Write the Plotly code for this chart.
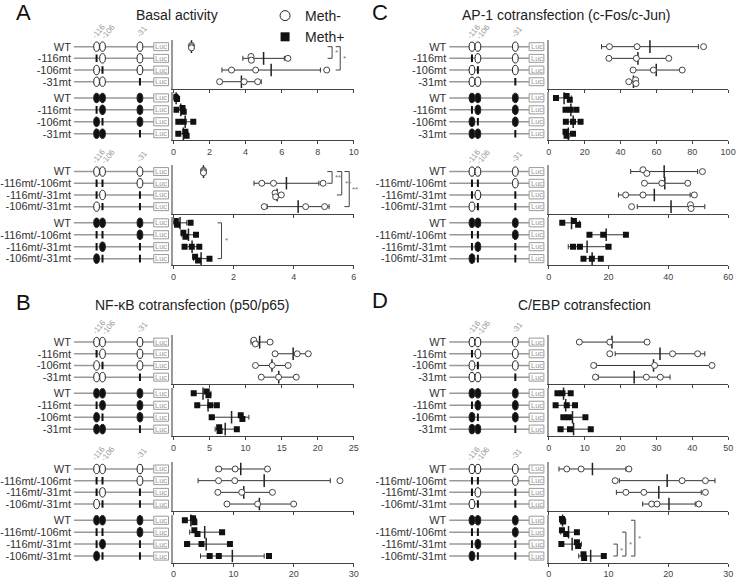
import plotly.graph_objects as go

W, H = 745, 579

# ---------------- data ----------------
SINGLE_ROWS = ["WT", "-116mt", "-106mt", "-31mt"]
DOUBLE_ROWS = ["WT", "-116mt/-106mt", "-116mt/-31mt", "-106mt/-31mt"]
SITE_LABELS = ["-116", "-106", "-31"]
SINGLE_MUT = [[0, 0, 0], [1, 0, 0], [0, 1, 0], [0, 0, 1]]
DOUBLE_MUT = [[0, 0, 0], [1, 1, 0], [1, 0, 1], [0, 1, 1]]

PANEL_LETTERS = ["A", "B", "C", "D"]
PANEL_TITLES = ["Basal activity", "NF-κB cotransfection (p50/p65)",
                "AP-1 cotransfection (c-Fos/c-Jun)", "C/EBP cotransfection"]
LEGEND_NAMES = ["Meth-", "Meth+"]

# Panel A, single mutants (x 0-10)
A1_NEG_PTS = [[1.0, 1.0, 1.0], [4.3, 4.32, 6.35], [3.22, 4.56, 8.5], [2.56, 3.92, 4.67]]
A1_NEG_MEAN = [1.0, 5.0, 5.42, 3.77]
A1_NEG_SD = [0.04, 1.15, 2.73, 1.1]
A1_POS_PTS = [[0.1, 0.15, 0.2], [0.15, 0.5, 0.57], [0.27, 0.57, 1.1], [0.27, 0.66, 0.73]]
A1_POS_MEAN = [0.15, 0.41, 0.65, 0.55]
A1_POS_SD = [0.05, 0.23, 0.42, 0.25]
A1_TICKS = [0, 2, 4, 6, 8, 10]

# Panel A, double mutants (x 0-6)
A2_NEG_PTS = [[1.0, 1.0, 1.0], [2.94, 3.33, 4.98], [3.38, 3.4, 3.59], [3.02, 4.4, 5.03]]
A2_NEG_MEAN = [1.0, 3.76, 3.45, 4.15]
A2_NEG_SD = [0.04, 1.08, 0.1, 1.03]
A2_POS_PTS = [[0.08, 0.12, 0.57], [0.33, 0.4, 0.75], [0.37, 0.61, 0.86], [0.72, 0.82, 1.2]]
A2_POS_MEAN = [0.22, 0.5, 0.62, 0.92]
A2_POS_SD = [0.22, 0.22, 0.25, 0.25]
A2_TICKS = [0, 2, 4, 6]

# Panel B, single mutants (x 0-25)
B1_NEG_PTS = [[11.14, 11.37, 13.4], [14.09, 17.16, 18.7], [11.37, 13.7, 15.9], [12.18, 14.58, 17.03]]
B1_NEG_MEAN = [11.95, 16.6, 13.66, 14.6]
B1_NEG_SD = [1.2, 2.3, 2.3, 2.4]
B1_POS_PTS = [[2.81, 4.62, 4.85], [3.3, 5.12, 6.02], [5.3, 9.33, 9.56], [6.34, 6.4, 8.79]]
B1_POS_MEAN = [4.1, 4.8, 8.06, 7.18]
B1_POS_SD = [1.1, 1.4, 2.4, 1.4]
B1_TICKS = [0, 5, 10, 15, 20, 25]

# Panel B, double mutants (x 0-30)
B2_NEG_PTS = [[7.55, 10.27, 15.65], [7.5, 10.2, 27.7], [7.39, 11.36, 16.47], [8.9, 14.0, 20.0]]
B2_NEG_MEAN = [11.2, 15.1, 11.7, 14.3]
B2_NEG_SD = [4.1, 11.0, 4.5, 5.6]
B2_POS_PTS = [[1.9, 3.26, 3.48], [3.48, 4.0, 8.1], [2.28, 4.67, 9.4], [6.03, 7.55, 15.9]]
B2_POS_MEAN = [2.9, 5.2, 5.45, 9.8]
B2_POS_SD = [0.9, 2.5, 3.6, 5.3]
B2_TICKS = [0, 10, 20, 30]

# Panel C, single mutants (x 0-100)
C1_NEG_PTS = [[33.8, 49.2, 86.3], [33.5, 48.8, 66.9], [47.0, 58.3, 74.4], [44.6, 48.4, 48.6]]
C1_NEG_MEAN = [56.4, 49.7, 59.9, 47.2]
C1_NEG_SD = [27.0, 16.7, 13.8, 2.2]
C1_POS_PTS = [[4.0, 9.9, 11.7], [9.3, 12.1, 15.4], [9.5, 13.5, 17.7], [9.3, 9.9, 13.5]]
C1_POS_MEAN = [8.5, 12.3, 13.6, 10.9]
C1_POS_SD = [4.0, 3.0, 4.1, 2.3]
C1_TICKS = [0, 20, 40, 60, 80, 100]

# Panel C, double mutants (x 0-60)
C2_NEG_PTS = [[31.5, 32.8, 51.4], [32.0, 37.8, 46.5], [25.7, 31.5, 48.7], [27.7, 47.4, 47.6]]
C2_NEG_MEAN = [38.6, 38.8, 35.3, 40.9]
C2_NEG_SD = [11.2, 7.3, 12.0, 11.3]
C2_POS_PTS = [[4.5, 8.4, 9.8], [13.6, 18.2, 25.8], [8.1, 10.4, 20.0], [11.6, 14.4, 17.4]]
C2_POS_MEAN = [7.6, 19.2, 12.8, 14.5]
C2_POS_SD = [2.7, 6.2, 6.3, 2.9]
C2_TICKS = [0, 20, 40, 60]

# Panel D, single mutants (x 0-50)
D1_NEG_PTS = [[8.5, 17.0, 27.4], [17.0, 34.5, 41.5], [12.5, 29.5, 45.5], [13.0, 27.2, 31.1]]
D1_NEG_MEAN = [17.6, 31.0, 29.2, 23.8]
D1_NEG_SD = [9.5, 12.5, 16.0, 10.0]
D1_POS_PTS = [[2.4, 3.8, 6.1], [1.9, 5.0, 7.3], [4.1, 5.6, 10.2], [3.3, 5.9, 11.7]]
D1_POS_MEAN = [4.1, 4.7, 6.6, 6.9]
D1_POS_SD = [1.9, 2.7, 3.2, 4.3]
D1_TICKS = [0, 10, 20, 30, 40, 50]

# Panel D, double mutants (x 0-30)
D2_NEG_PTS = [[3.0, 5.4, 13.4], [11.1, 22.3, 26.2], [12.9, 15.9, 26.2], [17.2, 18.1, 25.1]]
D2_NEG_MEAN = [7.3, 19.8, 18.4, 20.1]
D2_NEG_SD = [5.6, 8.0, 7.1, 4.4]
D2_POS_PTS = [[2.2, 2.3, 2.4], [2.2, 2.9, 4.7], [2.1, 4.7, 4.9], [5.8, 5.9, 9.2]]
D2_POS_MEAN = [2.3, 3.3, 3.9, 7.0]
D2_POS_SD = [0.1, 1.3, 1.55, 2.0]
D2_TICKS = [0, 10, 20, 30]

# significance brackets: (row_from, row_to, label)
A1_NEG_SIG = [(0, 1, "*"), (0, 2, "*")]
A2_NEG_SIG = [(0, 1, "**"), (0, 2, "**"), (0, 3, "**")]
A2_POS_SIG = [(0, 3, "*")]
D2_POS_SIG = [(2, 3, "*"), (1, 3, "*"), (0, 3, "*")]

# ---------------- layout of blocks (style) ----------------
blocks = [
    dict(left=173, right=356, top=40, rows=SINGLE_ROWS, muts=SINGLE_MUT, ticks=A1_TICKS,
         neg=(A1_NEG_PTS, A1_NEG_MEAN, A1_NEG_SD), pos=(A1_POS_PTS, A1_POS_MEAN, A1_POS_SD),
         neg_sig=(A1_NEG_SIG, [8.8, 9.25], 0.25), pos_sig=None),
    dict(left=173, right=356, top=166, rows=DOUBLE_ROWS, muts=DOUBLE_MUT, ticks=A2_TICKS,
         neg=(A2_NEG_PTS, A2_NEG_MEAN, A2_NEG_SD), pos=(A2_POS_PTS, A2_POS_MEAN, A2_POS_SD),
         neg_sig=(A2_NEG_SIG, [5.28, 5.6, 5.85], 0.16), pos_sig=(A2_POS_SIG, [1.6], 0.13)),
    dict(left=173, right=356, top=338, rows=SINGLE_ROWS, muts=SINGLE_MUT, ticks=B1_TICKS,
         neg=(B1_NEG_PTS, B1_NEG_MEAN, B1_NEG_SD), pos=(B1_POS_PTS, B1_POS_MEAN, B1_POS_SD),
         neg_sig=None, pos_sig=None),
    dict(left=173, right=356, top=466, rows=DOUBLE_ROWS, muts=DOUBLE_MUT, ticks=B2_TICKS,
         neg=(B2_NEG_PTS, B2_NEG_MEAN, B2_NEG_SD), pos=(B2_POS_PTS, B2_POS_MEAN, B2_POS_SD),
         neg_sig=None, pos_sig=None),
    dict(left=554, right=736, top=40, rows=SINGLE_ROWS, muts=SINGLE_MUT, ticks=C1_TICKS,
         neg=(C1_NEG_PTS, C1_NEG_MEAN, C1_NEG_SD), pos=(C1_POS_PTS, C1_POS_MEAN, C1_POS_SD),
         neg_sig=None, pos_sig=None),
    dict(left=554, right=736, top=166, rows=DOUBLE_ROWS, muts=DOUBLE_MUT, ticks=C2_TICKS,
         neg=(C2_NEG_PTS, C2_NEG_MEAN, C2_NEG_SD), pos=(C2_POS_PTS, C2_POS_MEAN, C2_POS_SD),
         neg_sig=None, pos_sig=None),
    dict(left=554, right=736, top=338, rows=SINGLE_ROWS, muts=SINGLE_MUT, ticks=D1_TICKS,
         neg=(D1_NEG_PTS, D1_NEG_MEAN, D1_NEG_SD), pos=(D1_POS_PTS, D1_POS_MEAN, D1_POS_SD),
         neg_sig=None, pos_sig=None),
    dict(left=554, right=736, top=466, rows=DOUBLE_ROWS, muts=DOUBLE_MUT, ticks=D2_TICKS,
         neg=(D2_NEG_PTS, D2_NEG_MEAN, D2_NEG_SD), pos=(D2_POS_PTS, D2_POS_MEAN, D2_POS_SD),
         neg_sig=None, pos_sig=(D2_POS_SIG, [11.45, 12.9, 14.4], 0.65)),
]

# panel letter / title positions (px)
letter_pos = [(11, 13), (11, 305), (372, 13), (372, 303)]
title_pos = [(177, 15), (192, 308), (572, 15), (590, 308)]

FONT = "Liberation Sans, Arial, sans-serif"
fig = go.Figure()
layout = dict(width=W, height=H, margin=dict(l=0, r=0, t=0, b=0),
              paper_bgcolor="white", plot_bgcolor="white",
              font=dict(family=FONT, color="#333"), showlegend=True)
shapes, annots = [], []
counter = [0]


def names(k):
    return ("x" if k == 1 else f"x{k}"), ("y" if k == 1 else f"y{k}")


def keys(k):
    return ("xaxis" if k == 1 else f"xaxis{k}"), ("yaxis" if k == 1 else f"yaxis{k}")


def new_pair():
    counter[0] += 1
    return counter[0]


# site centres in schematic units (px from schematic domain start)
SITE_X = [25, 31, 69]
LABEL_X = [27, 37, 71]

for b in blocks:
    xmax = b["ticks"][-1]
    for part in ("neg", "pos"):
        top_px = b["top"] if part == "neg" else b["top"] + 53
        hgt = 49.5 if part == "neg" else 48.5
        bot_px = top_px + hgt
        yr = [3.6, -0.6] if part == "neg" else [3.55, -0.48]
        ydom = [1 - bot_px / H, 1 - top_px / H]

        # ---------- data subplot ----------
        kd = new_pair()
        xd, yd = names(kd)
        xk, yk = keys(kd)
        layout[xk] = dict(domain=[b["left"] / W, b["right"] / W], anchor=yd, range=[0, xmax],
                          tickvals=b["ticks"], showticklabels=(part == "pos"),
                          ticks="outside", ticklen=3, tickcolor="#444", tickwidth=1,
                          showline=True, linecolor="#444", linewidth=1, showgrid=False,
                          zeroline=False, tickfont=dict(size=9, color="#444"))
        layout[yk] = dict(domain=ydom, anchor=xd, range=yr, showticklabels=False, ticks="",
                          showline=True, linecolor="#999", linewidth=1.5, showgrid=False,
                          zeroline=False)
        pts, means, sds = b[part]
        fig.add_trace(go.Scatter(
            x=means, y=[0, 1, 2, 3], xaxis=xd, yaxis=yd, mode="markers", showlegend=False,
            marker=dict(symbol="line-ns", size=9, line=dict(width=1.5, color="#222")),
            error_x=dict(type="data", array=sds, visible=True, color="#333",
                         thickness=1, width=2.5),
            hoverinfo="x"))
        # points with small vertical offsets for overlapping values
        px_, py_ = [], []
        thr = xmax * 0.025
        for i, row in enumerate(pts):
            srt = sorted(row)
            groups = [[srt[0]]]
            for v in srt[1:]:
                if v - groups[-1][-1] < thr:
                    groups[-1].append(v)
                else:
                    groups.append([v])
            for g in groups:
                n = len(g)
                if n == 1:
                    offs = [0.0]
                elif n == 2:
                    offs = [-0.16, 0.16]
                else:
                    offs = [(-0.1 + 0.2 * j / (n - 1)) for j in range(n)]
                for v, o in zip(g, offs):
                    px_.append(v)
                    py_.append(i + o)
        if part == "neg":
            mk = dict(symbol="circle", size=6, color="white", line=dict(width=1, color="#444"))
        else:
            mk = dict(symbol="square", size=6, color="#111", line=dict(width=0))
        fig.add_trace(go.Scatter(x=px_, y=py_, xaxis=xd, yaxis=yd, mode="markers",
                                 marker=mk, showlegend=False, hoverinfo="x"))

        # significance brackets
        sig = b["neg_sig"] if part == "neg" else b["pos_sig"]
        if sig:
            pairs, xpos, dx = sig
            for (r0, r1, lab), xb in zip(pairs, xpos):
                shapes.append(dict(type="path", xref=xd, yref=yd,
                                   path=f"M {xb-dx},{r0} L {xb},{r0} L {xb},{r1} L {xb-dx},{r1}",
                                   line=dict(color="#444", width=1)))
                annots.append(dict(x=xb, y=(r0 + r1) / 2, xref=xd, yref=yd, text=lab,
                                   showarrow=False, xanchor="left", xshift=1,
                                   font=dict(size=8, color="#777")))

        # ---------- schematic subplot ----------
        ks = new_pair()
        xs, ys = names(ks)
        xk, yk = keys(ks)
        layout[xk] = dict(domain=[(b["left"] - 103) / W, (b["left"] - 4) / W], anchor=ys,
                          range=[0, 99], visible=False, fixedrange=True)
        layout[yk] = dict(domain=ydom, anchor=xs, range=yr, tickvals=[0, 1, 2, 3],
                          ticktext=b["rows"], ticks="", showline=False, showgrid=False,
                          zeroline=False, tickfont=dict(size=11, color="#333"))
        lx, ly = [], []
        for i in range(4):
            lx += [2, 84, None]
            ly += [i, i, None]
        fig.add_trace(go.Scatter(x=lx, y=ly, xaxis=xs, yaxis=ys, mode="lines",
                                 line=dict(color="#999", width=1.5), showlegend=False,
                                 hoverinfo="skip"))
        for i, mut in enumerate(b["muts"]):
            for j, m in enumerate(mut):
                cx = SITE_X[j]
                if m:
                    shapes.append(dict(type="line", xref=xs, yref=ys, x0=cx, x1=cx,
                                       y0=i - 0.32, y1=i + 0.32,
                                       line=dict(color="#111", width=2)))
                else:
                    fill = "white" if part == "neg" else "#111"
                    shapes.append(dict(type="circle", xref=xs, yref=ys,
                                       x0=cx - 2.9, x1=cx + 2.9, y0=i - 0.4, y1=i + 0.4,
                                       fillcolor=fill, line=dict(color="#222", width=1)))
            shapes.append(dict(type="rect", xref=xs, yref=ys, x0=83, x1=98,
                               y0=i - 0.34, y1=i + 0.34, fillcolor="white",
                               line=dict(color="#999", width=1)))
            annots.append(dict(x=90.5, y=i, xref=xs, yref=ys, text="Luc", showarrow=False,
                               font=dict(size=7.5, color="#999")))
        if part == "neg":
            for j, lab in enumerate(SITE_LABELS):
                annots.append(dict(x=LABEL_X[j], y=-0.6, xref=xs, yref=ys, text=lab,
                                   showarrow=False, textangle=-50, yshift=8,
                                   font=dict(size=8, color="#999")))

# panel letters and titles
for (lx0, ly0), letter in zip(letter_pos, PANEL_LETTERS):
    annots.append(dict(x=lx0 / W, y=1 - ly0 / H, xref="paper", yref="paper", text=letter,
                       showarrow=False, xanchor="left", yanchor="middle",
                       font=dict(size=22, color="#111")))
for (tx, ty), t in zip(title_pos, PANEL_TITLES):
    annots.append(dict(x=tx / W, y=1 - ty / H, xref="paper", yref="paper", text=t,
                       showarrow=False, xanchor="center", yanchor="middle",
                       font=dict(size=14, color="#222")))

# legend entries
fig.add_trace(go.Scatter(x=[None], y=[None], mode="markers", name=LEGEND_NAMES[0],
                         marker=dict(symbol="circle", size=10, color="white",
                                     line=dict(width=1, color="#222"))))
fig.add_trace(go.Scatter(x=[None], y=[None], mode="markers", name=LEGEND_NAMES[1],
                         marker=dict(symbol="square", size=9, color="#111")))

layout["legend"] = dict(x=266 / W, y=1.0, xanchor="left", yanchor="top",
                        font=dict(size=14, color="#222"), bgcolor="rgba(0,0,0,0)",
                        itemwidth=30, tracegroupgap=0)
layout["shapes"] = shapes
layout["annotations"] = annots
fig.update_layout(**layout)
fig.write_html("out.html", post_script="document.body.style.margin='0';",
               config={"displayModeBar": False})
